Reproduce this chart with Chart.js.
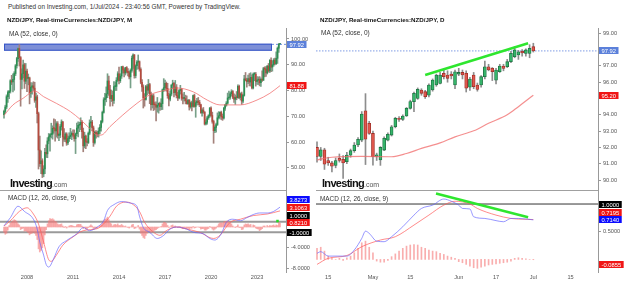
<!DOCTYPE html>
<html>
<head>
<meta charset="utf-8">
<script src="https://cdn.jsdelivr.net/npm/chart.js@4.4.1/dist/chart.umd.min.js"></script>
<style>
  body { margin: 0; width: 625px; height: 284px; background: #fff; position: relative; overflow: hidden;
         font-family: "Liberation Sans", Arial, sans-serif; }
  canvas { position: absolute; }
  .t { position: absolute; white-space: nowrap; line-height: 1; color: #333; z-index: 2; }
  .b { font-weight: bold; color: #111; }
  .logo { position: absolute; z-index: 2; line-height: 1; white-space: nowrap; }
  .logo b { font-size: 11px; letter-spacing: -0.7px; color: #111; }
  .logo span { font-size: 7px; color: #555; }
</style>
</head>
<body>
<div class="t" style="left:8px;top:4px;font-size:6.4px">Published on Investing.com, 1/Jul/2024 - 23:40:56 GMT, Powered by TradingView.</div>
<div class="t b" style="left:7px;top:17px;font-size:6.2px">NZD/JPY, Real-timeCurrencies:NZD/JPY, M</div>
<div class="t b" style="left:320px;top:17px;font-size:6.2px">NZD/JPY, Real-timeCurrencies:NZD/JPY, D</div>
<div class="t" style="left:9px;top:31px;font-size:6.5px">MA (52, close, 0)</div>
<div class="t" style="left:321px;top:30px;font-size:6.5px">MA (52, close, 0)</div>
<div class="t" style="left:8px;top:195px;font-size:6.4px">MACD (12, 26, close, 9)</div>
<div class="t" style="left:320px;top:196px;font-size:6.4px">MACD (12, 26, close, 9)</div>
<div class="logo" style="left:10px;top:174px"><b>Investing</b><span>.com</span></div>
<div class="logo" style="left:322px;top:174px"><b>Investing</b><span>.com</span></div>

<script>
/* ---------------------------------------------------------------------------
 * NZD/JPY: mensal (esquerda, jul/2006 .. jul/2024) e diário (direita,
 * 10/abr .. 1/jul/2024), cada um com painel de preço + MACD.
 * Valores lidos a olho da imagem de referência.
 * ------------------------------------------------------------------------- */

// ----- Mensal: índice 0 = jul/2006 -----
const mOpen = [
  70.6, 71.9, 73.6, 77.6, 79.2, 79.7,
  83.8, 83.3, 84.3, 86.6, 89.6, 92.4, 96.3, 92.8, 84.3, 86.5, 90.0, 83.6,
  87.5, 84.7, 84.9, 79.0, 81.3, 81.8, 80.9, 76.2, 77.5, 71.0, 56.9, 51.6,
  52.7, 47.6, 49.5, 56.0, 55.4, 60.4, 62.0, 62.9, 63.0, 65.3, 65.2, 64.3,
  67.1, 62.6, 62.7, 66.0, 67.8, 62.0, 61.1, 63.1, 59.6, 61.3, 62.1, 62.7,
  63.4, 62.7, 61.3, 63.2, 65.4, 66.5, 66.7, 67.6, 64.0, 58.5, 62.3, 60.0,
  59.8, 63.4, 67.4, 67.7, 65.5, 59.8, 63.8, 63.3, 63.1, 64.3, 65.7, 68.0,
  71.5, 76.4, 77.1, 78.7, 83.7, 80.3, 76.8, 78.1, 76.1, 81.5, 81.6, 84.0,
  86.5, 83.8, 85.6, 89.2, 88.0, 86.8, 88.9, 87.4, 86.9, 85.3, 87.8, 92.5,
  93.8, 85.8, 89.6, 91.0, 91.2, 88.2, 83.2, 81.4, 77.2, 76.5, 81.5, 80.1,
  82.3, 78.6, 74.5, 77.9, 74.5, 74.4, 73.5, 74.3, 75.0, 73.7, 74.9, 80.3,
  81.1, 82.8, 80.8, 78.0, 76.6, 78.6, 82.1, 82.8, 79.2, 81.3, 78.0, 77.1,
  80.0, 80.4, 77.0, 76.9, 76.9, 76.0, 74.9, 76.2, 73.6, 75.2, 73.8, 78.0,
  73.8, 75.3, 75.9, 75.4, 74.5, 71.3, 72.4, 71.6, 67.0, 67.7, 69.4, 70.2,
  73.2, 70.3, 68.0, 64.4, 65.7, 66.8, 69.4, 70.2, 71.5, 69.9, 69.3, 73.1,
  74.3, 75.1, 77.1, 77.4, 78.7, 79.6, 77.4, 76.6, 77.3, 77.2, 81.6, 77.3,
  78.7, 75.9, 78.1, 84.5, 84.0, 83.5, 84.6, 83.3, 85.1, 81.0, 86.3, 86.3,
  83.5, 84.0, 84.3, 83.0, 84.3, 84.0, 88.5, 88.3, 86.8, 89.5, 87.6, 91.7,
  89.1, 90.0, 91.8, 90.4, 92.5, 96.4, 97.9,
];
const mHigh = [
  72.4, 74.3, 78.3, 79.9, 80.1, 84.2,
  85.9, 86.5, 87.3, 90.1, 92.9, 96.6, 97.8, 93.2, 88.4, 91.8, 90.6, 90.5,
  88.3, 86.4, 85.2, 83.1, 83.0, 83.4, 83.2, 79.0, 78.2, 71.6, 62.3, 56.6,
  53.5, 50.8, 57.5, 58.9, 61.7, 63.3, 63.2, 67.3, 66.3, 69.0, 68.7, 67.9,
  67.9, 63.5, 66.8, 68.6, 68.0, 65.2, 63.6, 63.6, 62.4, 63.6, 65.3, 64.0,
  64.7, 64.7, 63.5, 67.3, 67.8, 67.7, 69.4, 68.3, 65.4, 63.8, 62.7, 61.3,
  63.9, 68.6, 70.0, 68.4, 66.2, 64.2, 64.4, 64.2, 65.5, 66.8, 68.4, 72.0,
  77.2, 78.9, 81.4, 86.5, 85.6, 82.0, 80.2, 79.8, 83.5, 83.3, 85.0, 87.3,
  89.1, 86.5, 89.4, 89.5, 88.6, 89.0, 89.3, 88.5, 87.5, 88.4, 93.4, 94.2,
  94.0, 90.0, 91.6, 93.8, 91.5, 88.8, 84.2, 82.2, 78.8, 82.0, 82.3, 84.3,
  82.8, 79.4, 78.4, 78.6, 75.5, 75.6, 77.3, 75.2, 75.5, 76.8, 80.6, 84.6,
  84.0, 83.3, 82.8, 78.9, 79.9, 82.3, 84.0, 83.2, 83.9, 82.3, 79.3, 80.4,
  82.0, 80.8, 78.7, 79.3, 78.2, 77.9, 76.6, 76.5, 75.6, 75.9, 78.2, 78.6,
  76.1, 77.0, 77.3, 76.2, 74.7, 73.0, 73.4, 71.8, 68.7, 70.0, 70.6, 73.4,
  73.7, 71.6, 68.5, 66.3, 67.3, 71.3, 71.8, 71.7, 72.0, 70.9, 73.5, 74.6,
  75.7, 79.0, 79.8, 79.3, 80.3, 80.0, 78.7, 78.3, 79.6, 82.2, 82.1, 79.1,
  79.4, 78.5, 85.9, 87.0, 84.8, 86.0, 86.6, 86.9, 86.1, 86.8, 87.0, 87.0,
  85.4, 85.3, 85.4, 84.9, 87.6, 89.0, 89.2, 89.3, 89.7, 90.5, 92.0, 92.7,
  91.6, 92.4, 92.6, 95.0, 96.9, 98.3, 98.1,
];
const mLow = [
  69.3, 71.2, 72.9, 75.4, 76.8, 79.0,
  82.3, 79.4, 80.1, 85.8, 88.7, 91.3, 89.5, 73.9, 80.6, 84.9, 80.8, 82.6,
  79.5, 82.2, 74.8, 77.3, 78.6, 80.0, 75.4, 73.4, 67.4, 49.5, 50.5, 47.7,
  46.2, 46.5, 47.7, 54.0, 53.9, 59.3, 56.4, 61.6, 61.1, 63.4, 60.3, 61.9,
  61.5, 60.5, 61.7, 64.6, 58.4, 60.2, 60.1, 58.7, 59.0, 60.2, 61.3, 60.9,
  62.0, 60.3, 55.5, 62.5, 62.0, 64.0, 64.8, 61.5, 56.2, 57.7, 57.4, 58.5,
  59.4, 62.8, 65.9, 64.3, 58.3, 59.2, 61.5, 62.0, 61.9, 63.2, 64.2, 67.4,
  71.2, 74.2, 75.6, 77.2, 78.1, 73.9, 75.7, 74.0, 75.0, 80.0, 80.0, 83.5,
  82.6, 83.1, 84.7, 86.7, 85.3, 86.0, 86.8, 85.7, 84.5, 81.0, 87.1, 88.6,
  84.8, 84.9, 88.2, 88.5, 87.5, 82.6, 79.6, 73.2, 73.9, 76.2, 78.3, 78.9,
  74.9, 72.4, 73.2, 72.2, 72.6, 68.2, 71.6, 71.2, 72.3, 72.5, 72.6, 79.6,
  80.1, 79.7, 77.0, 74.0, 76.0, 77.9, 80.8, 77.5, 78.3, 77.1, 76.1, 76.7,
  78.6, 76.2, 74.8, 75.9, 74.8, 74.7, 74.6, 72.4, 73.1, 72.1, 73.5, 73.5,
  69.6, 74.4, 74.4, 73.7, 71.2, 70.0, 71.1, 66.6, 66.6, 66.9, 68.8, 69.6,
  69.9, 67.3, 59.5, 63.6, 63.8, 66.4, 68.9, 69.2, 68.7, 68.4, 68.9, 72.3,
  73.9, 74.7, 76.5, 76.6, 77.8, 76.8, 75.4, 74.6, 76.4, 77.0, 76.8, 76.3,
  74.6, 75.2, 77.8, 83.7, 81.3, 82.7, 81.8, 81.7, 80.6, 80.6, 83.8, 81.7,
  82.4, 82.3, 81.8, 81.6, 83.5, 83.9, 85.3, 85.5, 86.4, 87.1, 87.0, 87.3,
  87.5, 89.4, 89.9, 90.1, 90.5, 94.8, 97.8,
];
const mClose = [
  71.9, 73.6, 77.6, 79.2, 79.7, 83.8,
  83.3, 84.3, 86.6, 89.6, 92.4, 96.3, 92.8, 84.3, 86.5, 90.0, 83.6, 87.5,
  84.7, 84.9, 79.0, 81.3, 81.8, 80.9, 76.2, 77.5, 71.0, 56.9, 51.6, 52.7,
  47.6, 49.5, 56.0, 55.4, 60.4, 62.0, 62.9, 63.0, 65.3, 65.2, 64.3, 67.1,
  62.6, 62.7, 66.0, 67.8, 62.0, 61.1, 63.1, 59.6, 61.3, 62.1, 62.7, 63.4,
  62.7, 61.3, 63.2, 65.4, 66.5, 66.7, 67.6, 64.0, 58.5, 62.3, 60.0, 59.8,
  63.4, 67.4, 67.7, 65.5, 59.8, 63.8, 63.3, 63.1, 64.3, 65.7, 68.0, 71.5,
  76.4, 77.1, 78.7, 83.7, 80.3, 76.8, 78.1, 76.1, 81.5, 81.6, 84.0, 86.5,
  83.8, 85.6, 89.2, 88.0, 86.8, 88.9, 87.4, 86.9, 85.3, 87.8, 92.5, 93.8,
  85.8, 89.6, 91.0, 91.2, 88.2, 83.2, 81.4, 77.2, 76.5, 81.5, 80.1, 82.3,
  78.6, 74.5, 77.9, 74.5, 74.4, 73.5, 74.3, 75.0, 73.7, 74.9, 80.3, 81.1,
  82.8, 80.8, 78.0, 76.6, 78.6, 82.1, 82.8, 79.2, 81.3, 78.0, 77.1, 80.0,
  80.4, 77.0, 76.9, 76.9, 76.0, 74.9, 76.2, 73.6, 75.2, 73.8, 78.0, 73.8,
  75.3, 75.9, 75.4, 74.5, 71.3, 72.4, 71.6, 67.0, 67.7, 69.4, 70.2, 73.2,
  70.3, 68.0, 64.4, 65.7, 66.8, 69.4, 70.2, 71.5, 69.9, 69.3, 73.1, 74.3,
  75.1, 77.1, 77.4, 78.7, 79.6, 77.4, 76.6, 77.3, 77.2, 81.6, 77.3, 78.7,
  75.9, 78.1, 84.5, 84.0, 83.5, 84.6, 83.3, 85.1, 81.0, 86.3, 86.3, 83.5,
  84.0, 84.3, 83.0, 84.3, 84.0, 88.5, 88.3, 86.8, 89.5, 87.6, 91.7, 89.1,
  90.0, 91.8, 90.4, 92.5, 96.4, 97.9, 97.92,
];
// MA(52) mensal, pontos
const mMaIdx = [0, 7, 15, 22, 24, 31, 41, 52, 60, 67, 73, 76, 83, 93, 104, 114, 127, 135, 148, 159, 169, 185, 198, 208, 216];
const mMaVal = [70.3, 74.4, 77.0, 79.5, 79.8, 77.6, 75.0, 71.8, 68.6, 65.3, 62.7, 62.7, 66.0, 70.5, 75.0, 78.3, 80.2, 81.0, 79.5, 76.3, 74.4, 74.4, 76.3, 78.9, 81.88];
// MACD mensal
const mMacdIdx = [0, 5, 11, 16, 23, 26, 28, 31, 33, 35, 39, 43, 49, 57, 62, 67, 73, 78, 81, 86, 92, 99, 104, 106, 109, 114, 120, 125, 130, 135, 143, 148, 156, 161, 165, 170, 174, 179, 185, 190, 195, 200, 206, 211, 216];
const mMacdVal = [0.24, 1.8, 4.0, 3.0, 1.5, -0.4, -2.9, -5.4, -7.2, -7.7, -6.0, -3.8, -2.6, -1.3, -0.1, -0.7, 0.0, 1.2, 3.2, 4.3, 4.9, 4.6, 4.0, 2.1, -0.1, -1.0, -2.2, -1.6, -0.4, 0.0, -0.4, -1.0, -1.3, -2.2, -2.5, -1.3, 0.9, 1.5, 1.2, 1.8, 2.4, 2.7, 2.7, 3.0, 3.83];
const mSigIdx = [0, 5, 12, 18, 23, 27, 31, 35, 37, 41, 46, 54, 62, 73, 78, 83, 88, 95, 100, 106, 110, 117, 122, 127, 135, 143, 153, 164, 169, 177, 185, 195, 206, 216];
const mSigVal = [0.2, 1.2, 3.0, 3.7, 2.5, 0.6, -2.9, -6.3, -6.6, -5.4, -3.5, -1.9, -0.7, -0.3, 0.6, 2.1, 4.0, 4.8, 4.5, 3.0, 0.9, -1.0, -1.6, -0.7, 0.0, -0.4, -1.0, -2.2, -1.6, 0.9, 1.5, 2.2, 2.5, 3.1];
const mHist = [
  -1.0, -1.4, -1.2, -0.6, 0.3, 0.8,
  1.0, 1.2, 1.4, 1.3, 1.0, 0.6, 0.4, -0.5, -0.3, -0.2, -0.8, -0.7,
  -0.9, -1.1, -1.5, -1.3, -1.2, -1.0, -1.2, -1.6, -2.4, -4.2, -4.8, -4.5,
  -4.0, -3.2, -1.5, -0.5, 0.6, 1.2, 1.6, 1.5, 1.6, 1.4, 1.1, 1.0,
  0.6, 0.4, 0.5, 0.6, 0.2, -0.1, 0.1, -0.2, 0.0, 0.2, 0.3, 0.3,
  0.2, 0.1, 0.1, 0.4, 0.5, 0.5, 0.5, 0.2, -0.3, -0.1, -0.4, -0.4,
  -0.1, 0.2, 0.4, 0.2, -0.4, -0.2, -0.2, -0.2, 0.0, 0.2, 0.4, 0.8,
  1.2, 1.5, 1.6, 1.9, 1.4, 0.8, 0.6, 0.2, 0.4, 0.5, 0.4, 0.6,
  0.3, 0.3, 0.5, 0.3, 0.1, 0.2, 0.0, -0.1, -0.2, 0.0, 0.4, 0.5,
  -0.3, -0.2, 0.0, 0.3, -0.4, -1.2, -1.6, -2.0, -2.2, -1.6, -1.2, -0.8,
  -0.9, -1.1, -0.8, -0.8, -0.6, -0.5, -0.3, -0.1, 0.0, 0.1, 0.6, 0.9,
  0.9, 0.7, 0.3, -0.1, 0.0, 0.3, 0.4, 0.1, 0.2, 0.0, -0.1, 0.1,
  0.1, -0.2, -0.3, -0.2, -0.3, -0.3, -0.2, -0.4, -0.2, -0.2, 0.1, -0.2,
  -0.1, 0.0, 0.0, -0.1, -0.4, -0.3, -0.3, -0.6, -0.6, -0.4, -0.3, 0.1,
  -0.1, -0.4, -0.6, -0.4, -0.2, 0.2, 0.6, 0.8, 0.8, 0.8, 1.0, 1.1,
  1.1, 1.2, 0.9, 0.8, 0.6, 0.2, 0.0, -0.1, 0.1, 0.4, -0.1, -0.1,
  -0.5, -0.4, 0.4, 0.6, 0.5, 0.6, 0.4, 0.5, 0.0, 0.4, 0.3, -0.2,
  -0.3, -0.4, -0.7, -0.5, -0.3, 0.2, 0.2, 0.0, 0.3, 0.1, 0.3, 0.2,
  0.3, 0.4, 0.2, 0.4, 0.3, 0.9, 0.72,
];
const mTickIdx = [18, 54, 90, 126, 162, 198];
const mTickLbl = ["2008", "2011", "2014", "2017", "2020", "2023"];
const mZoneIdx = [0, 209.7];
const mZoneVal = [95.45, 98.17];
const mDotIdx = [214];
const mDotVal = [1.15];

// ----- Diário: índice 0 = 10/abr/2024, último = 1/jul/2024 -----
const dOpen = [
  92.0, 91.45, 91.85, 91.2, 91.05, 90.9, 91.33, 91.27, 91.12, 91.53, 91.8, 92.15,
  92.45, 94.25, 93.48, 92.86, 91.45, 91.23, 91.84, 92.45, 92.76, 93.27, 93.79, 93.72,
  93.93, 94.4, 94.81, 95.01, 95.52, 95.42, 95.21, 95.52, 95.83, 95.93, 96.55, 96.44,
  96.5, 95.83, 96.5, 96.6, 96.55, 95.7, 96.44, 95.83, 95.83, 96.34, 96.95, 96.85,
  96.13, 96.64, 96.99, 96.95, 97.26, 97.56, 97.67, 97.9, 97.77, 97.77, 98.18,
];
const dHigh = [
  92.35, 92.0, 91.95, 91.4, 91.15, 91.35, 91.6, 91.5, 91.7, 91.9, 92.3, 92.6,
  94.2, 95.3, 93.6, 93.0, 91.65, 92.05, 92.65, 92.9, 93.35, 93.85, 93.9, 94.0,
  94.45, 94.9, 95.4, 95.65, 95.6, 95.5, 95.9, 96.2, 96.5, 96.6, 96.8, 96.7,
  96.65, 96.75, 96.85, 96.75, 96.7, 96.3, 96.6, 95.95, 96.4, 97.3, 97.1, 96.9,
  96.85, 97.1, 97.1, 97.4, 97.9, 98.18, 97.95, 98.0, 98.05, 98.3, 98.39,
];
const dLow = [
  91.1, 91.2, 90.65, 90.9, 90.5, 90.75, 91.1, 90.1, 91.0, 91.4, 91.7, 92.05,
  92.35, 90.95, 92.8, 90.92, 91.2, 90.9, 91.8, 92.4, 92.7, 93.2, 93.6, 93.65,
  93.9, 94.35, 94.2, 94.95, 95.2, 95.0, 95.1, 95.45, 95.75, 95.9, 96.2, 96.0,
  96.2, 95.6, 96.4, 96.2, 95.4, 95.5, 95.6, 95.45, 95.7, 96.2, 96.7, 96.1,
  95.9, 96.6, 96.7, 96.9, 97.2, 97.5, 97.4, 97.6, 97.6, 97.5, 97.85,
];
const dClose = [
  91.45, 91.85, 90.97, 91.05, 90.85, 91.2, 91.2, 91.05, 91.53, 91.8, 92.15, 92.5,
  94.05, 92.5, 92.86, 91.43, 91.55, 92.0, 92.56, 92.8, 93.27, 93.79, 93.72, 93.93,
  94.4, 94.81, 95.32, 95.56, 95.32, 95.11, 95.83, 96.13, 96.44, 96.44, 96.34, 96.24,
  96.38, 96.64, 96.6, 96.45, 95.63, 96.2, 95.72, 95.56, 96.34, 96.95, 96.75, 96.64,
  96.75, 96.99, 96.85, 97.26, 97.77, 97.98, 97.87, 97.8, 97.98, 98.08, 97.92,
];
const dMaIdx = [0, 4, 12, 20, 24, 28, 33, 37, 42, 46, 51, 54, 58];
const dMaVal = [91.23, 91.4, 91.45, 91.43, 91.63, 91.94, 92.28, 92.65, 93.02, 93.48, 94.0, 94.5, 95.2];
const dMacdIdx = [0, 1, 3, 8, 10, 12, 13, 14, 16, 18, 20, 23, 26, 28, 31, 34, 36, 38, 39, 41, 42, 45, 48, 50, 52, 54, 58];
const dMacdVal = [0.11, 0.14, 0.06, 0.06, 0.17, 0.38, 0.51, 0.47, 0.33, 0.32, 0.41, 0.59, 0.8, 0.92, 0.98, 1.09, 1.05, 0.98, 0.92, 0.91, 0.77, 0.74, 0.7, 0.68, 0.74, 0.74, 0.714];
const dSigIdx = [0, 3, 8, 12, 17, 21, 26, 30, 34, 37, 41, 43, 48, 52, 58];
const dSigVal = [-0.09, 0.02, 0.07, 0.23, 0.35, 0.41, 0.62, 0.8, 0.98, 1.05, 1.0, 0.92, 0.8, 0.74, 0.7195];
const dHist = [
  0.2, 0.22, 0.15, 0.06, 0.03, 0.0, 0.02, -0.02, 0.03, 0.06, 0.12, 0.2,
  0.3, 0.33, 0.22, 0.12, -0.03, -0.05, -0.05, -0.02, 0.05, 0.1, 0.15, 0.2,
  0.24, 0.26, 0.27, 0.26, 0.22, 0.2, 0.17, 0.15, 0.14, 0.11, 0.09, 0.06,
  0.04, 0.02, -0.04, -0.06, -0.09, -0.12, -0.15, -0.16, -0.14, -0.12, -0.1, -0.09,
  -0.08, -0.07, -0.06, -0.05, -0.03, 0.02, 0.03, 0.02, 0.01, 0.0, -0.0055,
];
const dTickIdx = [3, 15, 25, 38, 48, 58, 68];
const dTickLbl = ["15", "May", "15", "Jun", "17", "Jul", "15"];
const dTrendIdx = [29, 56.6];
const dTrendVal = [96.44, 98.39];
const dMacdTrendIdx = [31.9, 56.6];
const dMacdTrendVal = [1.19, 0.76];

// ----- Etiquetas do eixo (valor atual dos indicadores) -----
const lpTagVal = [97.92, 81.88];
const lpTagCol = ["#5b80da", "#f01616"];
const lmTagVal = [3.8273, 3.1063, 1.0, 0.821, -1.0];
const lmTagCol = ["#0b0bff", "#f01616", "#000", "#f01616", "#000"];
const rpTagVal = [97.92, 95.2];
const rpTagCol = ["#5b80da", "#f01616"];
const rmTagVal = [1.0, 0.7195, 0.714, -0.0855];
const rmTagCol = ["#000", "#f01616", "#0b0bff", "#f01616"];

/* ------------------------------ Helpers ----------------------------------- */
const FONT = '"Liberation Sans", Arial, sans-serif';
const TICK_PX = 5.6;
Chart.defaults.font.family = FONT;
Chart.defaults.font.size = TICK_PX;
Chart.defaults.color = "#555";

function mkCanvas(left, top, w, h) {
  const c = document.createElement("canvas");
  c.width = w; c.height = h;
  c.style.left = left + "px"; c.style.top = top + "px";
  document.body.appendChild(c);
  return c;
}

const pts = (xs, ys) => xs.map((x, i) => ({ x, y: ys[i] }));

function candles(o, h, l, c, bodyW, st) {
  const up = c.map((v, i) => v >= o[i]);
  return [
    { type: "bar", data: h.map((v, i) => ({ x: i, y: [l[i], v] })), grouped: false, order: 5,
      backgroundColor: up.map((u) => (u ? st.wickUp : st.wickDn)), barThickness: 1, borderWidth: 0 },
    { type: "bar", data: o.map((v, i) => ({ x: i, y: [v, c[i]] })), grouped: false, order: 4,
      backgroundColor: up.map((u) => (u ? st.up : st.dn)), borderColor: up.map((u) => (u ? st.upB : st.dnB)),
      borderWidth: st.bw, borderSkipped: false, barThickness: bodyW, minBarLength: 1 },
  ];
}

function line(xs, ys, color, w, extra) {
  return Object.assign({ type: "line", data: pts(xs, ys), borderColor: color, borderWidth: w,
    pointRadius: 0, fill: false, order: 1 }, extra || {});
}

function histo(vals, color) {
  return { type: "bar", data: vals.map((v, i) => ({ x: i, y: [0, v] })), grouped: false, order: 6,
    backgroundColor: color, barThickness: 1, borderWidth: 0 };
}

function yScale(min, max, ticks, dec, axisW) {
  return {
    position: "right", min, max,
    afterBuildTicks: (s) => { s.ticks = ticks.map((v) => ({ value: v })); },
    afterFit: (s) => { s.width = axisW; s.paddingTop = 0; s.paddingBottom = 0; },
    ticks: { callback: (v) => Number(v).toFixed(dec), padding: 2, color: "#555", font: { size: TICK_PX } },
    grid: { drawOnChartArea: false, drawTicks: true, tickLength: 3, color: "#999" },
    border: { display: true, color: "#999" },
  };
}

function xScale(min, max, ticks, labels) {
  const show = !!ticks;
  return {
    type: "linear", min, max, offset: false, display: show,
    afterBuildTicks: (s) => { if (show) s.ticks = ticks.map((v) => ({ value: v })); },
    afterFit: (s) => { if (show) { s.height = 12; s.paddingLeft = 0; s.paddingRight = 0; } },
    ticks: { autoSkip: false, maxRotation: 0, padding: 2.5, color: "#555", font: { size: TICK_PX },
      callback: (v) => (show ? labels[ticks.indexOf(v)] : "") },
    grid: { display: false, drawTicks: false, tickLength: 0 }, border: { display: false },
  };
}

// zonas, linha superior do painel e etiquetas coloridas no eixo
const deco = {
  id: "deco",
  beforeDatasetsDraw(chart, args, o) {
    const { ctx, chartArea: a, scales: { x, y } } = chart;
    ctx.save();
    if (o.zone) {
      const x0 = x.getPixelForValue(o.zone.x[0]), x1 = x.getPixelForValue(o.zone.x[1]);
      const y0 = y.getPixelForValue(o.zone.y[1]), y1 = y.getPixelForValue(o.zone.y[0]);
      ctx.fillStyle = "rgba(96,118,206,0.82)";
      ctx.fillRect(x0, y0, x1 - x0, y1 - y0);
      ctx.strokeStyle = "#3656c8"; ctx.lineWidth = 1;
      ctx.strokeRect(x0 + 0.5, y0 + 0.5, x1 - x0 - 1, y1 - y0 - 1);
    }
    if (o.topLine) {
      ctx.strokeStyle = "#a0a0a0"; ctx.lineWidth = 1;
      ctx.beginPath(); ctx.moveTo(0, a.top + 0.5); ctx.lineTo(a.right, a.top + 0.5); ctx.stroke();
    }
    ctx.restore();
  },
  afterDraw(chart, args, o) {
    if (!o.tags) return;
    const { ctx, chartArea: a, scales: { y } } = chart;
    const step = 7.6, h = 7;
    const items = o.tags.vals.map((v, i) => ({ v, col: o.tags.cols[i], py: y.getPixelForValue(v) }))
      .sort((p, q) => q.py - p.py);
    let prev = null;
    ctx.save();
    ctx.font = "5.8px " + FONT;
    ctx.textBaseline = "middle";
    for (const t of items) {
      if (prev !== null && t.py > prev - step) t.py = prev - step;
      prev = t.py;
      const txt = t.v.toFixed(o.tags.dec);
      const w = ctx.measureText(txt).width + 5;
      const top = Math.round(t.py - h / 2);
      ctx.fillStyle = t.col;
      ctx.fillRect(a.right + 1, top, w, h);
      ctx.fillStyle = "#fff";
      ctx.fillText(txt, a.right + 3.5, top + h / 2 + 0.5);
    }
    ctx.restore();
  },
};

function makeChart(canvas, datasets, x, y, opts) {
  return new Chart(canvas, {
    type: "bar",
    data: { datasets },
    options: {
      responsive: false, animation: false, events: [],
      layout: { padding: 0, autoPadding: false },
      plugins: { legend: { display: false }, tooltip: { enabled: false }, deco: opts },
      scales: { x, y },
    },
    plugins: [deco],
  });
}

/* ------------------------------ Estilos ----------------------------------- */
const mStyle = { up: "#2b8f52", dn: "#b54a3d", upB: "#2b8f52", dnB: "#b54a3d",
  wickUp: "#77a088", wickDn: "#a3817a", bw: 0 };
const dStyle = { up: "#35b56a", dn: "#e0574d", upB: "#1d6e40", dnB: "#9c2e27",
  wickUp: "#8d8d8d", wickDn: "#8d8d8d", bw: 0.8 };
const MA_COL = "rgba(240,105,105,0.75)";
const MACD_COL = "rgba(95,95,255,0.65)";
const SIG_COL = "rgba(255,90,90,0.7)";
const HIST_COL = "rgba(245,120,120,0.6)";
const TREND_COL = "#2ee62e";

/* ------------------------------ Mensal ------------------------------------ */
const LX = [-3.13, 220.66];
makeChart(mkCanvas(0, 28, 315, 162),
  [
    ...candles(mOpen, mHigh, mLow, mClose, 1, mStyle),
    line(mMaIdx, mMaVal, MA_COL, 1, { cubicInterpolationMode: "monotone" }),
    line([mZoneIdx[1], LX[1]], [lpTagVal[0], lpTagVal[0]], "#6e8fe0", 1, { borderDash: [2, 2] }),
  ],
  xScale(LX[0], LX[1]),
  yScale(41.36, 104.27, [50, 60, 70, 80, 90, 100], 2, 29),
  { zone: { x: mZoneIdx, y: mZoneVal }, tags: { vals: lpTagVal, cols: lpTagCol, dec: 2 } });

makeChart(mkCanvas(0, 190, 315, 94),
  [
    histo(mHist, HIST_COL),
    line(LX, [1, 1], "#9a9a9a", 2, { order: 7 }),
    line(LX, [-1, -1], "#9a9a9a", 2, { order: 7 }),
    line(mMacdIdx, mMacdVal, MACD_COL, 1, { cubicInterpolationMode: "monotone" }),
    line(mSigIdx, mSigVal, SIG_COL, 1, { cubicInterpolationMode: "monotone" }),
    line(mDotIdx, mDotVal, "#22dd22", 0, { showLine: false, pointRadius: 1.8, pointStyle: "rect",
      pointBackgroundColor: "#22dd22", order: 0 }),
  ],
  xScale(LX[0], LX[1], mTickIdx, mTickLbl),
  yScale(-8.65, 7.12, [-8, -4, 4], 4, 29),
  { topLine: true, tags: { vals: lmTagVal, cols: lmTagCol, dec: 4 } });

/* ------------------------------ Diário ------------------------------------ */
const RX = [-0.27, 75.34];
makeChart(mkCanvas(316, 28, 309, 162),
  [
    line(RX, [rpTagVal[0], rpTagVal[0]], "#7f9be4", 1, { borderDash: [1.5, 1.5], order: 8 }),
    ...candles(dOpen, dHigh, dLow, dClose, 3, dStyle),
    line(dMaIdx, dMaVal, MA_COL, 1.2, { cubicInterpolationMode: "monotone" }),
    line(dTrendIdx, dTrendVal, TREND_COL, 2.5, { order: 0 }),
  ],
  xScale(RX[0], RX[1]),
  yScale(89.39, 99.325, [90, 91, 92, 93, 94, 96, 97, 99], 2, 27),
  { tags: { vals: rpTagVal, cols: rpTagCol, dec: 2 } });

makeChart(mkCanvas(316, 190, 309, 94),
  [
    histo(dHist, HIST_COL),
    line(RX, [1, 1], "#333", 1, { order: 7 }),
    line(dMacdIdx, dMacdVal, MACD_COL, 1, { cubicInterpolationMode: "monotone" }),
    line(dSigIdx, dSigVal, SIG_COL, 1, { cubicInterpolationMode: "monotone" }),
    line(dMacdTrendIdx, dMacdTrendVal, TREND_COL, 2.5, { order: 0 }),
  ],
  xScale(RX[0], RX[1], dTickIdx, dTickLbl),
  yScale(-0.227, 1.253, [0.5, 1.0], 4, 27),
  { topLine: true, tags: { vals: rmTagVal, cols: rmTagCol, dec: 4 } });
</script>
</body>
</html>
